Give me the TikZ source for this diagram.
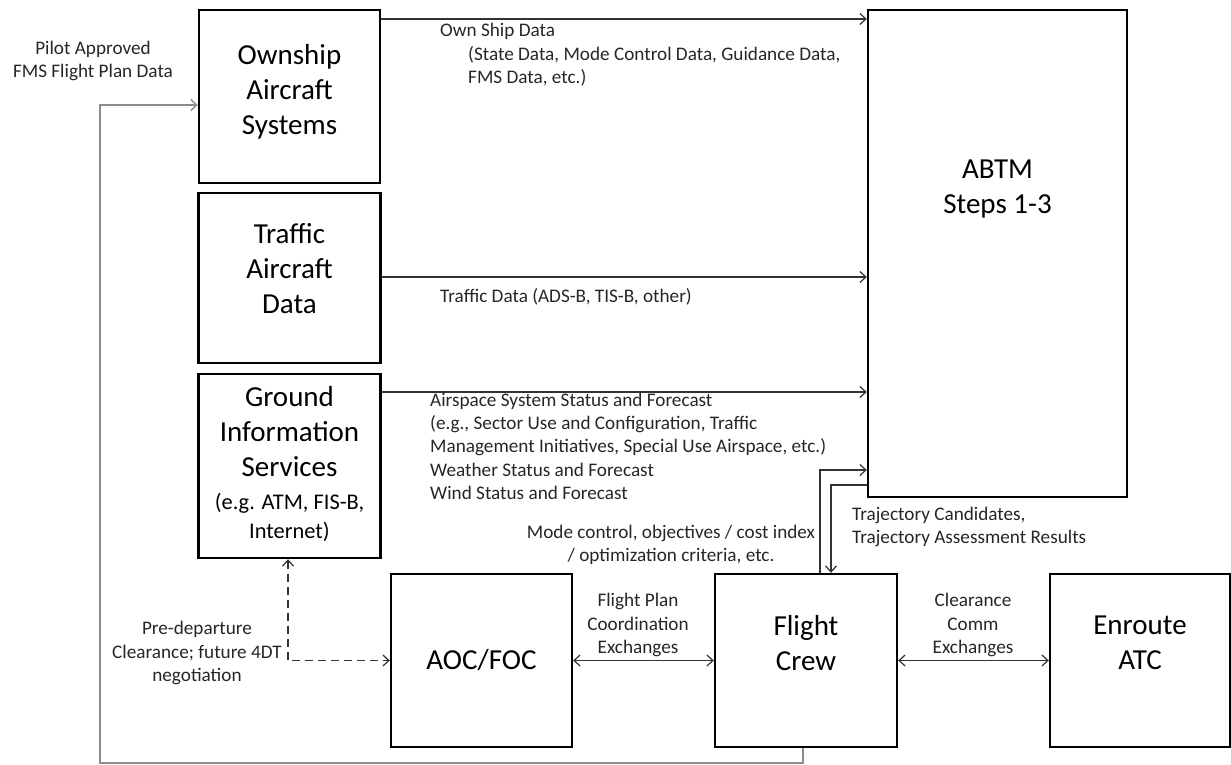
\documentclass[tikz,border=0pt]{standalone}
\usepackage{fontspec}
\setmainfont{Carlito}
\usetikzlibrary{arrows.meta}
\begin{document}
\begin{tikzpicture}[x=1pt,y=-1pt,
  box/.style={draw=black, line width=2.4pt, rectangle, inner sep=0pt},
  big/.style={font=\fontsize{29}{35}\selectfont, align=center, inner sep=0pt},
  lbl/.style={font=\fontsize{19.2}{23.2}\selectfont, inner sep=0pt, text=black!85},
  arr/.style={draw=black!80, line width=1.2pt, -{Straight Barb[length=6pt,width=11pt]}},
  darr/.style={draw=black!80, line width=1.2pt, {Straight Barb[length=6pt,width=11pt]}-{Straight Barb[length=6pt,width=11pt]}},
  dasharr/.style={draw=black!80, line width=1.2pt, dash pattern=on 8pt off 5pt, {Straight Barb[length=6pt,width=11pt]}-{Straight Barb[length=6pt,width=11pt]}},
  loopline/.style={draw=black!45, line width=1.4pt, -{Straight Barb[length=6pt,width=11pt]}}
]
\useasboundingbox (0,0) rectangle (1231,765);

% boxes
\node[box, minimum width=181pt, minimum height=173pt] (own) at (289.5,96.5) {};
\node[box, minimum width=182pt, minimum height=170pt] (traffic) at (289.5,278) {};
\node[box, minimum width=182pt, minimum height=184pt] (ground) at (289.5,466) {};
\node[box, minimum width=259pt, minimum height=487pt] (abtm) at (997.5,253.5) {};
\node[box, minimum width=181pt, minimum height=173pt] (aoc) at (481.5,660.5) {};
\node[box, minimum width=182pt, minimum height=173pt] (crew) at (806,660.5) {};
\node[box, minimum width=180pt, minimum height=173pt] (atc) at (1140,660.5) {};

% box texts
\node[big] (owntxt) at (289.5,92) {Ownship\\Aircraft\\Systems};
\node[big] (traffictxt) at (289.5,269) {Traffic\\Aircraft\\Data};
\node[big] (groundtxt) at (289.5,431.5) {Ground\\Information\\Services};
\node[font=\fontsize{22.4}{29}\selectfont, align=center, inner sep=0pt] (groundsub) at (289.5,517.5) {(e.g. ATM, FIS-B,\\Internet)};
\node[big] (abtmtxt) at (997.5,189) {ABTM\\Steps 1-3};
\node[big] (aoctxt) at (481.5,660) {AOC/FOC};
\node[big] (crewtxt) at (806,643) {Flight\\Crew};
\node[big] (atctxt) at (1140,643) {Enroute\\ATC};

% labels
\node[lbl, align=center] (pilot) at (93,61) {Pilot Approved\\FMS Flight Plan Data};
\node[lbl, anchor=west] (ownlbl) at (440,31) {Own Ship Data};
\node[lbl, align=left, anchor=north west] (ownlbl2) at (468,46) {(State Data, Mode Control Data, Guidance Data,\\FMS Data, etc.)};
\node[lbl, anchor=west] (trafficlbl) at (440,297) {Traffic Data (ADS-B, TIS-B, other)};
\node[lbl, align=left, anchor=north west] (airlbl) at (430,393) {Airspace System Status and Forecast\\(e.g., Sector Use and Configuration, Traffic\\Management Initiatives, Special Use Airspace, etc.)\\Weather Status and Forecast\\Wind Status and Forecast};
\node[lbl, align=center] (modelbl) at (671,545) {Mode control, objectives / cost index\\/ optimization criteria, etc.};
\node[lbl, align=left, anchor=north west] (trajlbl) at (852,507) {Trajectory Candidates,\\Trajectory Assessment Results};
\node[lbl, align=center] (fpclbl) at (638,625) {Flight Plan\\Coordination\\Exchanges};
\node[lbl, align=center] (clrlbl) at (973,625) {Clearance\\Comm\\Exchanges};
\node[lbl, align=center] (prelbl) at (197,653) {Pre-departure\\Clearance; future 4DT\\negotiation};

% connectors
\draw[arr] (own.east |- 0,19) -- (abtm.west |- 0,19);
\draw[arr] (traffic.east |- 0,277) -- (abtm.west |- 0,277);
\draw[arr] (ground.east |- 0,392) -- (abtm.west |- 0,392);
\draw[arr] (crew.north -| 820,0) |- (abtm.west |- 0,470);
\draw[arr] (abtm.west |- 0,485) -| (crew.north -| 831,0);
\draw[darr] (aoc.east) -- (crew.west);
\draw[darr] (crew.east) -- (atc.west);
\draw[dasharr] (ground.south -| 288,0) |- (aoc.west);
\coordinate (loopc) at (100,763);
\draw[loopline] (crew.south -| 803,0) |- (loopc) |- (own.west |- 0,105);
\end{tikzpicture}
\end{document}
